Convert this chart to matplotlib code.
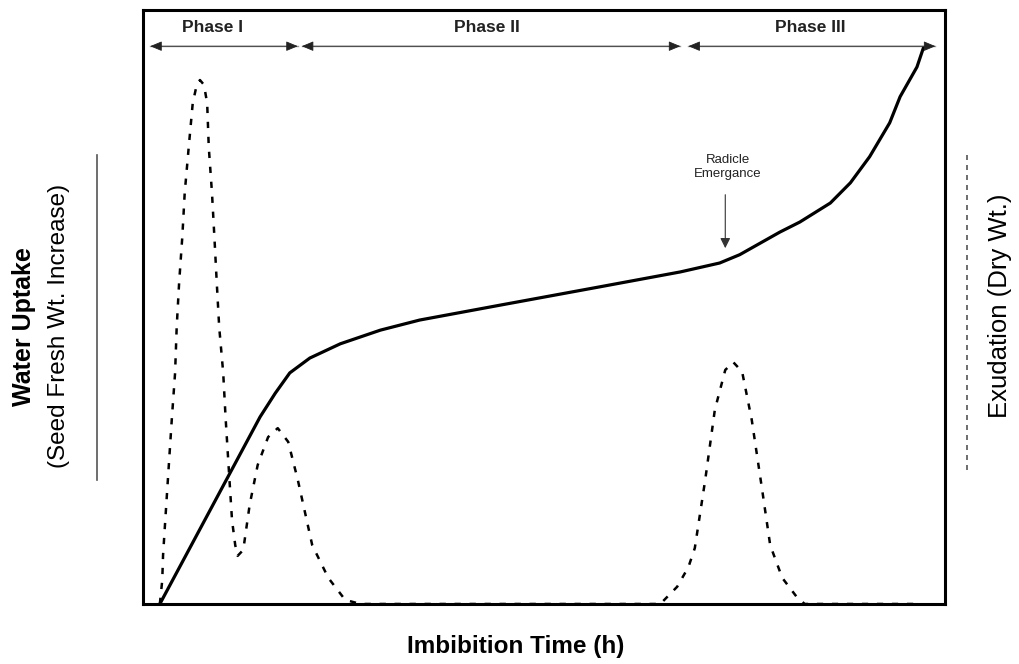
import matplotlib
matplotlib.use('Agg')
import matplotlib.pyplot as plt
from matplotlib.lines import Line2D

plt.rcParams['font.family'] = ['Liberation Sans', 'DejaVu Sans']

# water uptake (solid) - arbitrary units, 0-100 on both axes
uptake_t = [2.1, 14.6, 16.5, 18.3, 20.8, 24.6, 29.6, 34.5, 44.5, 57.0, 67.0,
            71.9, 74.4, 79.4, 81.9, 85.7, 88.2, 90.6, 93.1, 94.4, 96.5, 97.3]
uptake_v = [0, 31.5, 35.5, 38.9, 41.4, 43.8, 46.1, 47.8, 50.3, 53.4, 55.9,
            57.4, 58.8, 62.6, 64.3, 67.5, 70.9, 75.3, 81.0, 85.4, 90.4, 93.6]

# exudation (dashed)
exud_t = [2.1, 2.4, 2.5, 2.7, 3.1, 3.6, 4.0, 4.2, 4.5, 4.9, 5.2, 5.7, 6.2,
          6.7, 7.1, 7.6, 8.0, 8.2, 8.6, 8.9, 9.2, 9.5, 10.0, 10.3, 10.7, 11.1,
          11.5, 11.8, 12.5, 13.3, 14.3, 15.6, 16.8, 18.1, 19.3, 21.1, 23.1,
          25.2, 27.1, 64.5, 66.6, 68.0, 68.8, 70.1, 71.3, 72.6, 73.6, 74.7,
          75.9, 77.2, 78.2, 79.7, 81.5, 82.5, 96.9]
exud_v = [0, 4.0, 8.2, 12.5, 20.9, 31.3, 38.9, 46.6, 54.0, 61.8, 69.2, 76.9,
          84.3, 87.4, 88.2, 87.4, 84.3, 76.9, 69.2, 61.8, 54.0, 46.6, 38.9,
          31.3, 22.6, 14.1, 9.9, 8.1, 9.1, 16.7, 23.4, 28.1, 29.6, 27.3, 20.9,
          9.9, 4.4, 0.7, 0, 0, 2.9, 6.2, 9.4, 20.9, 32.7, 39.4, 40.7, 39.1,
          31.0, 19.2, 9.9, 4.4, 1.2, 0, 0]

phases = ['Phase I', 'Phase II', 'Phase III']
phase_start = [0.9, 19.8, 68.0]
phase_end = [19.3, 67.0, 98.8]
phase_label_x = [8.7, 42.9, 83.2]

fig = plt.figure(figsize=(10.2, 6.64), dpi=100)
ax = fig.add_axes([0.1402, 0.0904, 0.7863, 0.8946])
ax.set_xlim(0, 100)
ax.set_ylim(0, 100)
ax.set_xticks([])
ax.set_yticks([])
for s in ax.spines.values():
    s.set_linewidth(2.2)
    s.set_color('black')

ax.plot(exud_t, exud_v, color='black', lw=1.8, linestyle=(0, (2.5, 3.5)), zorder=2)
ax.plot(uptake_t, uptake_v, color='black', lw=2.3, solid_capstyle='round',
        solid_joinstyle='round', zorder=3)

for name, a, b, lx in zip(phases, phase_start, phase_end, phase_label_x):
    ax.plot([a, b], [93.9, 93.9], color='#9a9a9a', lw=1.0, zorder=2)
    ax.annotate('', xy=(b, 93.9), xytext=(a, 93.9),
                arrowprops=dict(arrowstyle='<|-|>,head_length=0.6,head_width=0.25',
                                color='#222222', lw=0.6, shrinkA=0, shrinkB=0,
                                mutation_scale=12), zorder=3)
    ax.text(lx, 97.1, name, ha='center', va='center', fontsize=12.5,
            fontweight='bold', color='#222222')

ax.text(72.9, 73.6, 'Radicle\nEmergance', ha='center', va='center', fontsize=9.5,
        linespacing=1.25, color='#222222')
ax.annotate('', xy=(72.6, 59.9), xytext=(72.6, 68.9),
            arrowprops=dict(arrowstyle='-|>,head_length=0.6,head_width=0.3',
                            color='#333333', lw=0.8, shrinkA=0, shrinkB=0,
                            mutation_scale=10))

# axis labels and legend-like side lines
fig.text(0.0235, 0.508, 'Water Uptake', rotation=90, ha='center', va='center',
         fontsize=18, fontweight='bold')
fig.text(0.058, 0.509, '(Seed Fresh Wt. Increase)', rotation=90, ha='center',
         va='center', fontsize=17.5)
fig.lines.append(Line2D([0.095, 0.095], [0.277, 0.767], transform=fig.transFigure,
                        color='#555555', lw=1.2))
fig.text(0.980, 0.539, 'Exudation (Dry Wt.)', rotation=90, ha='center',
         va='center', fontsize=18.5)
fig.lines.append(Line2D([0.948, 0.948], [0.292, 0.774], transform=fig.transFigure,
                        color='#555555', lw=1.2, linestyle=(0, (3, 3))))
fig.text(0.506, 0.026, 'Imbibition Time (h)', ha='center', va='center',
         fontsize=17.5, fontweight='bold')

fig.savefig('out.png', dpi=100)
